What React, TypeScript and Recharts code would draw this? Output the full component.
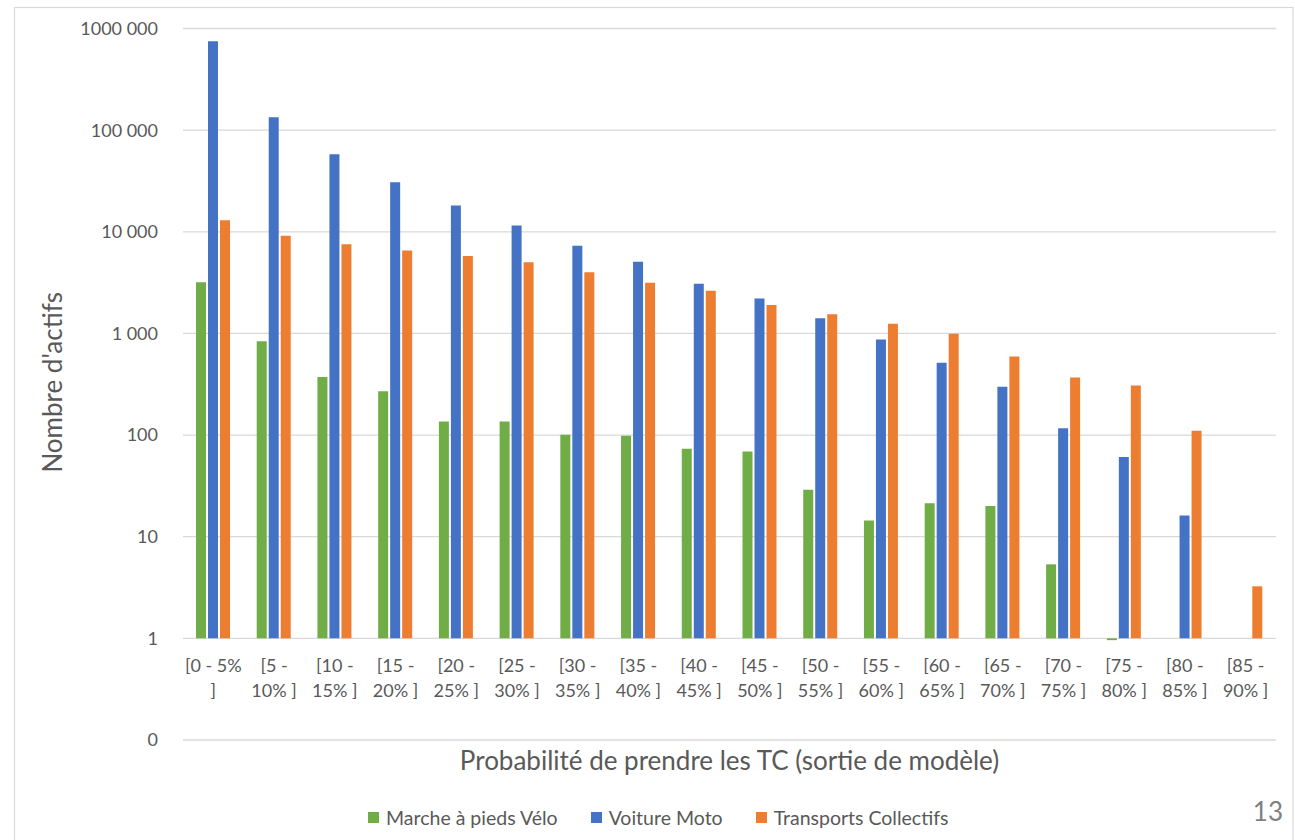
import React from 'react';
import { BarChart, Bar, XAxis, YAxis, CartesianGrid, Legend, Label } from 'recharts';

const categories = [
  '[0 - 5% ]', '[5 - 10% ]', '[10 - 15% ]', '[15 - 20% ]', '[20 - 25% ]', '[25 - 30% ]',
  '[30 - 35% ]', '[35 - 40% ]', '[40 - 45% ]', '[45 - 50% ]', '[50 - 55% ]', '[55 - 60% ]',
  '[60 - 65% ]', '[65 - 70% ]', '[70 - 75% ]', '[75 - 80% ]', '[80 - 85% ]', '[85 - 90% ]',
];

const categoryLines: string[][] = [
  ['[0 - 5%', ']'], ['[5 -', '10% ]'], ['[10 -', '15% ]'], ['[15 -', '20% ]'],
  ['[20 -', '25% ]'], ['[25 -', '30% ]'], ['[30 -', '35% ]'], ['[35 -', '40% ]'],
  ['[40 -', '45% ]'], ['[45 -', '50% ]'], ['[50 -', '55% ]'], ['[55 -', '60% ]'],
  ['[60 -', '65% ]'], ['[65 -', '70% ]'], ['[70 -', '75% ]'], ['[75 -', '80% ]'],
  ['[80 -', '85% ]'], ['[85 -', '90% ]'],
];

const marcheVelo: (number | null)[] = [
  3190, 838, 373, 270, 136, 136, 101, 98.6, 73.5, 69, 29, 14.4, 21.4, 20, 5.35, 0.96, null, null,
];
const voitureMoto: (number | null)[] = [
  751000, 134000, 58000, 30800, 18100, 11500, 7280, 5070, 3080, 2200, 1410, 873, 514, 299, 117, 60.7, 16.2, null,
];
const transportsCollectifs: (number | null)[] = [
  13000, 9120, 7550, 6530, 5790, 5020, 4000, 3150, 2630, 1900, 1545, 1245, 995, 594, 369, 308, 110, 3.25,
];

const yTicks = [0.1, 1, 10, 100, 1000, 10000, 100000, 1000000];
const seriesNames = ['Marche à pieds Vélo', 'Voiture Moto', 'Transports Collectifs'];
const seriesColors = ['#70AD47', '#4472C4', '#ED7D31'];
const xTitle = 'Probabilité de prendre les TC (sortie de modèle)';
const yTitle = "Nombre d'actifs";
const pageNumber = '13';

const AXIS_CROSS = 1;

const data = categories.map((c, i) => ({
  cat: c,
  lines: categoryLines[i],
  marche: marcheVelo[i],
  voiture: voitureMoto[i],
  tc: transportsCollectifs[i],
}));

const ranged = (key: string) => (d: any) =>
  d[key] == null ? [AXIS_CROSS, AXIS_CROSS] : [AXIS_CROSS, d[key]];

const FONT = 'Lato, "Open Sans", sans-serif';
const TEXT = '#595959';

const formatY = (v: number) => {
  if (v < 1) return '0';
  const s = String(Math.round(v));
  return s.replace(/\B(?=(\d{3})+(?!\d))/g, ' ').replace(/^1 000 000$/, '1000 000');
};

const XTick = (props: any) => {
  const { x, y, index } = props;
  const lines = categoryLines[index] || [];
  return (
    <g>
      {lines.map((ln, k) => (
        <text key={k} x={x} y={y - 68 + k * 25} textAnchor="middle" fill={TEXT} fontSize={18} fontFamily={FONT}>
          {ln}
        </text>
      ))}
    </g>
  );
};

const LegendContent = () => {
  return (
    <div style={{ display: 'flex', alignItems: 'center', height: 22, fontFamily: FONT, fontSize: 19.5, color: TEXT, whiteSpace: 'nowrap' }}>
      {seriesNames.map((n, i) => (
        <div key={i} style={{ display: 'flex', alignItems: 'center', marginRight: 33 }}>
          <span style={{ display: 'inline-block', width: 11, height: 11, background: seriesColors[i], marginRight: 7 }} />
          <span>{n}</span>
        </div>
      ))}
    </div>
  );
};

export default function App() {
  return (
    <div style={{ position: 'absolute', left: 0, top: 0, width: 1295, height: 840, background: '#fff', overflow: 'hidden' }}>
      <BarChart
        width={1295}
        height={840}
        data={data}
        margin={{ top: 28.5, right: 19, bottom: 40, left: 13 }}
        barSize={10}
        barGap={2}
      >
        <CartesianGrid vertical={false} stroke="#d9d9d9" strokeWidth={1.3} />
        <XAxis
          dataKey="cat"
          interval={0}
          height={60}
          axisLine={false}
          tickLine={false}
          tickSize={0}
          tickMargin={0}
          tick={<XTick />}
        >
          <Label
            content={(p: any) => {
              const vb = p.viewBox || { x: 183, y: 740, width: 1093 };
              return (
                <text x={vb.x + vb.width / 2} y={vb.y + 30} textAnchor="middle" fill={TEXT} fontSize={26} fontFamily={FONT}>
                  {xTitle}
                </text>
              );
            }}
          />
        </XAxis>
        <YAxis
          scale="log"
          domain={[0.1, 1000000]}
          ticks={yTicks}
          allowDataOverflow
          width={170}
          axisLine={false}
          tickLine={false}
          tickSize={0}
          tickMargin={25}
          tickFormatter={formatY}
          tick={{ fill: TEXT, fontSize: 18, fontFamily: FONT }}
        >
          <Label
            content={(p: any) => {
              const vb = p.viewBox || { x: 13, y: 28.5, height: 711.5 };
              const cx = vb.x + 49;
              const cy = vb.y + vb.height / 2 - 2;
              return (
                <text x={cx} y={cy} transform={`rotate(-90, ${cx}, ${cy})`} textAnchor="middle" fill={TEXT} fontSize={26} fontFamily={FONT}>
                  {yTitle}
                </text>
              );
            }}
          />
        </YAxis>
        <Legend
          layout="horizontal"
          verticalAlign="middle"
          align="center"
          wrapperStyle={{ left: 368, top: 806, width: 800, height: 22 }}
          content={<LegendContent />}
        />
        <Bar dataKey={ranged('marche')} name={seriesNames[0]} fill={seriesColors[0]} isAnimationActive={false} />
        <Bar dataKey={ranged('voiture')} name={seriesNames[1]} fill={seriesColors[1]} isAnimationActive={false} />
        <Bar dataKey={ranged('tc')} name={seriesNames[2]} fill={seriesColors[2]} isAnimationActive={false} />
      </BarChart>
      <svg width={1295} height={840} style={{ position: 'absolute', left: 0, top: 0, pointerEvents: 'none' }}>
        <rect x={14.5} y={7.5} width={1278.5} height={900} fill="none" stroke="#d9d9d9" strokeWidth={1.2} />
        <text x={1283} y={821} textAnchor="end" fill="#7f7f7f" fontSize={26} fontFamily={FONT}>
          {pageNumber}
        </text>
      </svg>
    </div>
  );
}
